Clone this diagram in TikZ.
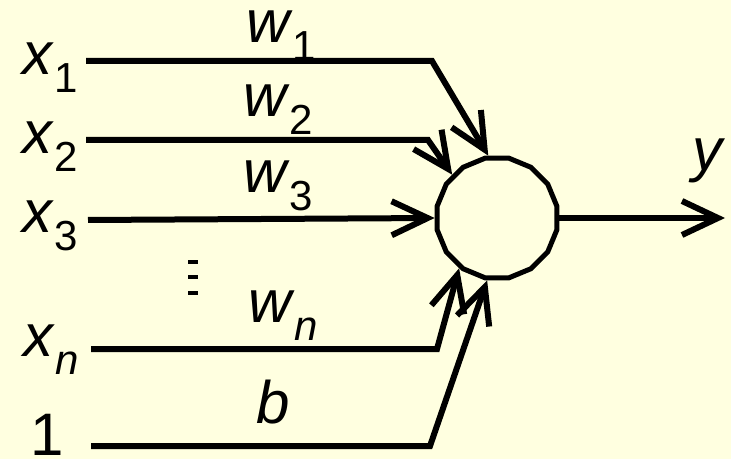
\documentclass[tikz,border=0pt]{standalone}
\usepackage{fontspec}
\setmainfont{Liberation Sans}
\usetikzlibrary{arrows.meta,shapes.geometric}
\definecolor{paper}{RGB}{255,255,224}
\newcommand{\insub}[1]{\raisebox{-0.3em}{\fontsize{21}{21}\selectfont #1}}

\begin{document}
\begin{tikzpicture}[x=0.5pt,y=-0.5pt]
\tikzstyle{wire}=[line width=3pt, line join=miter, -{Straight Barb[length=18pt,width=17pt]}]
\tikzstyle{lbl}=[anchor=base west, inner sep=0pt, font=\fontsize{30}{36}\selectfont]
\tikzstyle{neuron}=[regular polygon, regular polygon sides=16, draw, line width=2.5pt, minimum size=61pt, inner sep=0pt]

\fill[paper] (0,0) rectangle (731,459);
\useasboundingbox (0,0) rectangle (731,459);

% Neuron
\node[neuron] (sum) at (497,218) {};

% Inputs
\node[lbl] (x1) at (22,75) {\textit{x}\insub{1}};
\node[lbl] (x2) at (22,154) {\textit{x}\insub{2}};
\node[lbl] (x3) at (22,233) {\textit{x}\insub{3}};
\node[lbl] (xn) at (23,356) {\textit{x}\insub{\textit{n}}};
\node[lbl] (one) at (30,455) {1};

% Weights
\node[lbl] (w1) at (246,43) {\textit{w}\insub{1}};
\node[lbl] (w2) at (243,117) {\textit{w}\insub{2}};
\node[lbl] (w3) at (243,193) {\textit{w}\insub{3}};
\node[lbl] (wn) at (248,322) {\textit{w}\insub{\textit{n}}};
\node[lbl] (bias) at (256,423) {\textit{b}};

% Connectors
\coordinate (s1) at (86,61);  \coordinate (b1) at (432,61);
\coordinate (s2) at (86,140); \coordinate (b2) at (428,140);
\coordinate (s3) at (88,220);
\coordinate (sn) at (91,349); \coordinate (bn) at (437,349);
\coordinate (s0) at (91,446); \coordinate (b0) at (430,446);
\draw[wire] (s1) -- (b1) -- (sum.98);
\draw[wire] (s2) -- (b2) -- (sum.136);
\draw[wire] (s3) -- (sum.180);
\draw[wire] (sn) -- (bn) -- (sum.233);
\draw[wire] (s0) -- (b0) -- (sum.261);

% Dots
\foreach \d in {262,277,293}
  \fill (188,\d-2) rectangle (198,\d+2);

% Output
\coordinate (yout) at (725,218);
\draw[wire] (sum.east) -- (yout);
\node[lbl] (y) at (692,171) {\textit{y}};
\end{tikzpicture}
\end{document}
